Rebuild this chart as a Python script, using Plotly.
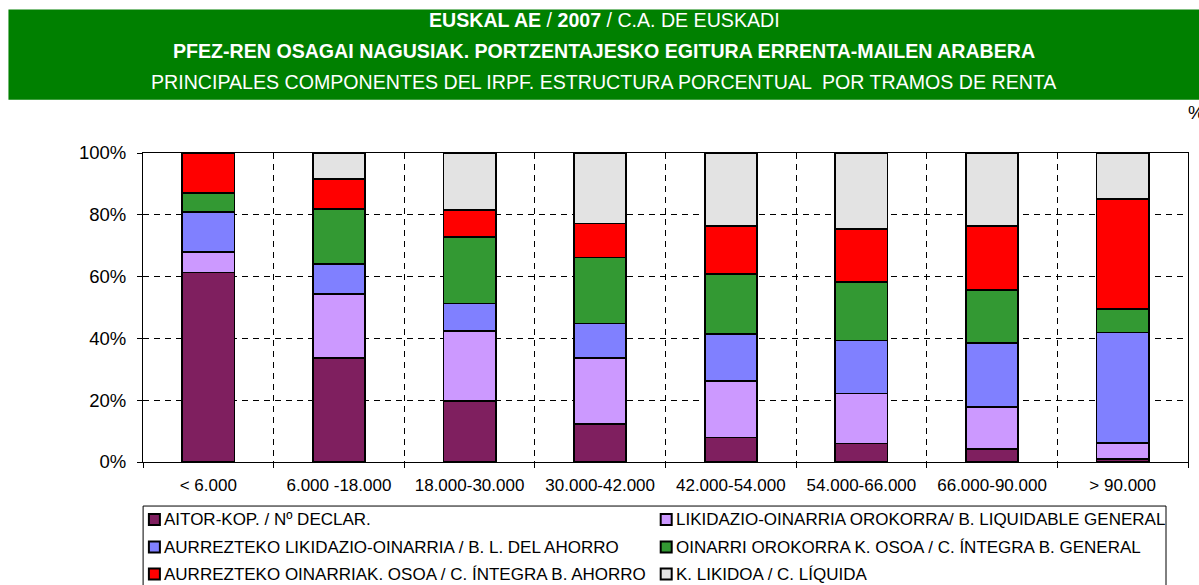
import plotly.graph_objects as go

# ---- data (percent of total, per income bracket) ----
categories = ["< 6.000", "6.000 -18.000", "18.000-30.000", "30.000-42.000",
              "42.000-54.000", "54.000-66.000", "66.000-90.000", "> 90.000"]

series_names = [
    "AITOR-KOP. / Nº DECLAR.",
    "LIKIDAZIO-OINARRIA OROKORRA/ B. LIQUIDABLE GENERAL",
    "AURREZTEKO LIKIDAZIO-OINARRIA / B. L. DEL AHORRO",
    "OINARRI OROKORRA K. OSOA / C. ÍNTEGRA B. GENERAL",
    "AURREZTEKO OINARRIAK. OSOA / C. ÍNTEGRA B. AHORRO",
    "K. LIKIDOA / C. LÍQUIDA",
]

aitor_kop = [61.3, 33.7, 19.7, 12.4, 7.9, 6.0, 4.1, 1.1]
likidazio_orokorra = [6.6, 20.6, 22.8, 21.2, 18.2, 16.2, 13.6, 5.1]
likidazio_aurrezteko = [13.0, 9.7, 8.8, 11.2, 15.3, 17.1, 20.7, 35.7]
oinarri_orokorra = [6.1, 18.0, 21.5, 21.4, 19.5, 19.0, 17.2, 7.6]
oinarri_aurrezteko = [13.0, 9.6, 8.7, 11.0, 15.4, 17.1, 20.7, 35.5]
kuota_likidoa = [0.0, 8.4, 18.5, 22.8, 23.7, 24.6, 23.7, 15.0]

y_tick_values = [0, 20, 40, 60, 80, 100]
y_tick_labels = ["0%", "20%", "40%", "60%", "80%", "100%"]

series_values = [aitor_kop, likidazio_orokorra, likidazio_aurrezteko,
                 oinarri_orokorra, oinarri_aurrezteko, kuota_likidoa]
colors = ["#7F1F5F", "#CC99FF", "#8080FF", "#339933", "#FF0000", "#E3E3E3"]

FONT = "Arial, 'Liberation Sans', sans-serif"

W, H = 1199, 585
ML, MR, MT, MB = 142.6, 11, 153.3, 123
PW = W - ML - MR
PH = H - MT - MB


def px_x(px):
    return (px - ML) / PW


def px_y(py):
    return (H - MB - py) / PH


fig = go.Figure()
for name, vals, col in zip(series_names, series_values, colors):
    fig.add_trace(go.Bar(
        x=categories, y=vals, name=name,
        marker=dict(color=col, line=dict(color="black", width=1.8)),
    ))

fig.update_layout(
    width=W, height=H,
    margin=dict(l=ML, r=MR, t=MT, b=MB, pad=0, autoexpand=False),
    barmode="stack", bargap=0.6,
    plot_bgcolor="white", paper_bgcolor="white",
    font=dict(family=FONT, size=17, color="black"),
    showlegend=False,
    xaxis=dict(
        type="category", tickson="boundaries",
        showgrid=True, gridcolor="black", gridwidth=1, griddash="6px,5px",
        showline=True, linecolor="black", linewidth=1, mirror=True,
        ticks="outside", ticklen=5, tickcolor="black",
        ticklabelstandoff=8,
        tickfont=dict(family=FONT, size=17, color="black"),
    ),
    yaxis=dict(
        range=[0, 100], tickmode="array",
        tickvals=y_tick_values, ticktext=y_tick_labels,
        showgrid=True, gridcolor="black", gridwidth=1, griddash="6px,5px",
        zeroline=False,
        showline=True, linecolor="black", linewidth=1, mirror=True,
        ticks="outside", ticklen=5, tickcolor="black",
        ticklabelstandoff=7,
        tickfont=dict(family=FONT, size=18.5, color="black"),
    ),
)

# green header band
fig.add_shape(type="rect", xref="paper", yref="paper",
              x0=px_x(8), x1=px_x(1205), y0=px_y(100), y1=px_y(10),
              fillcolor="#008000", line=dict(width=0), layer="above")

title_lines = [
    ("<b>EUSKAL AE</b> / <b>2007</b> / C.A. DE EUSKADI", 20),
    ("<b>PFEZ-REN OSAGAI NAGUSIAK. PORTZENTAJESKO EGITURA ERRENTA-MAILEN ARABERA</b>", 51),
    ("PRINCIPALES COMPONENTES DEL IRPF. ESTRUCTURA PORCENTUAL  POR TRAMOS DE RENTA", 82),
]
for txt, py in title_lines:
    fig.add_annotation(text=txt, xref="paper", yref="paper",
                       x=px_x(604), y=px_y(py), xanchor="center", yanchor="middle",
                       showarrow=False,
                       font=dict(family=FONT, size=19.6, color="white"))

fig.add_annotation(text="%", xref="paper", yref="paper",
                   x=px_x(1186), y=px_y(112.5), xanchor="left", yanchor="middle",
                   showarrow=False,
                   font=dict(family=FONT, size=18.5, color="black"))

# legend box (two columns, three rows)
fig.add_shape(type="rect", xref="paper", yref="paper",
              x0=px_x(142.7), x1=px_x(1166), y0=px_y(600), y1=px_y(506),
              fillcolor="white", line=dict(color="black", width=1))
col_x = [154, 666]
row_y = [519.5, 547, 574]
for i, (name, col) in enumerate(zip(series_names, colors)):
    cx = col_x[i % 2]
    cy = row_y[i // 2]
    fig.add_shape(type="rect", xref="paper", yref="paper",
                  x0=px_x(cx - 5.5), x1=px_x(cx + 5.5),
                  y0=px_y(cy + 5.5), y1=px_y(cy - 5.5),
                  fillcolor=col, line=dict(color="black", width=2))
    fig.add_annotation(text=name, xref="paper", yref="paper",
                       x=px_x(cx + 8), y=px_y(cy), xanchor="left", yanchor="middle",
                       showarrow=False,
                       font=dict(family=FONT, size=17, color="black"))

fig.write_html("out.html", config={"displayModeBar": False},
               post_script="document.body.style.margin='0';")
